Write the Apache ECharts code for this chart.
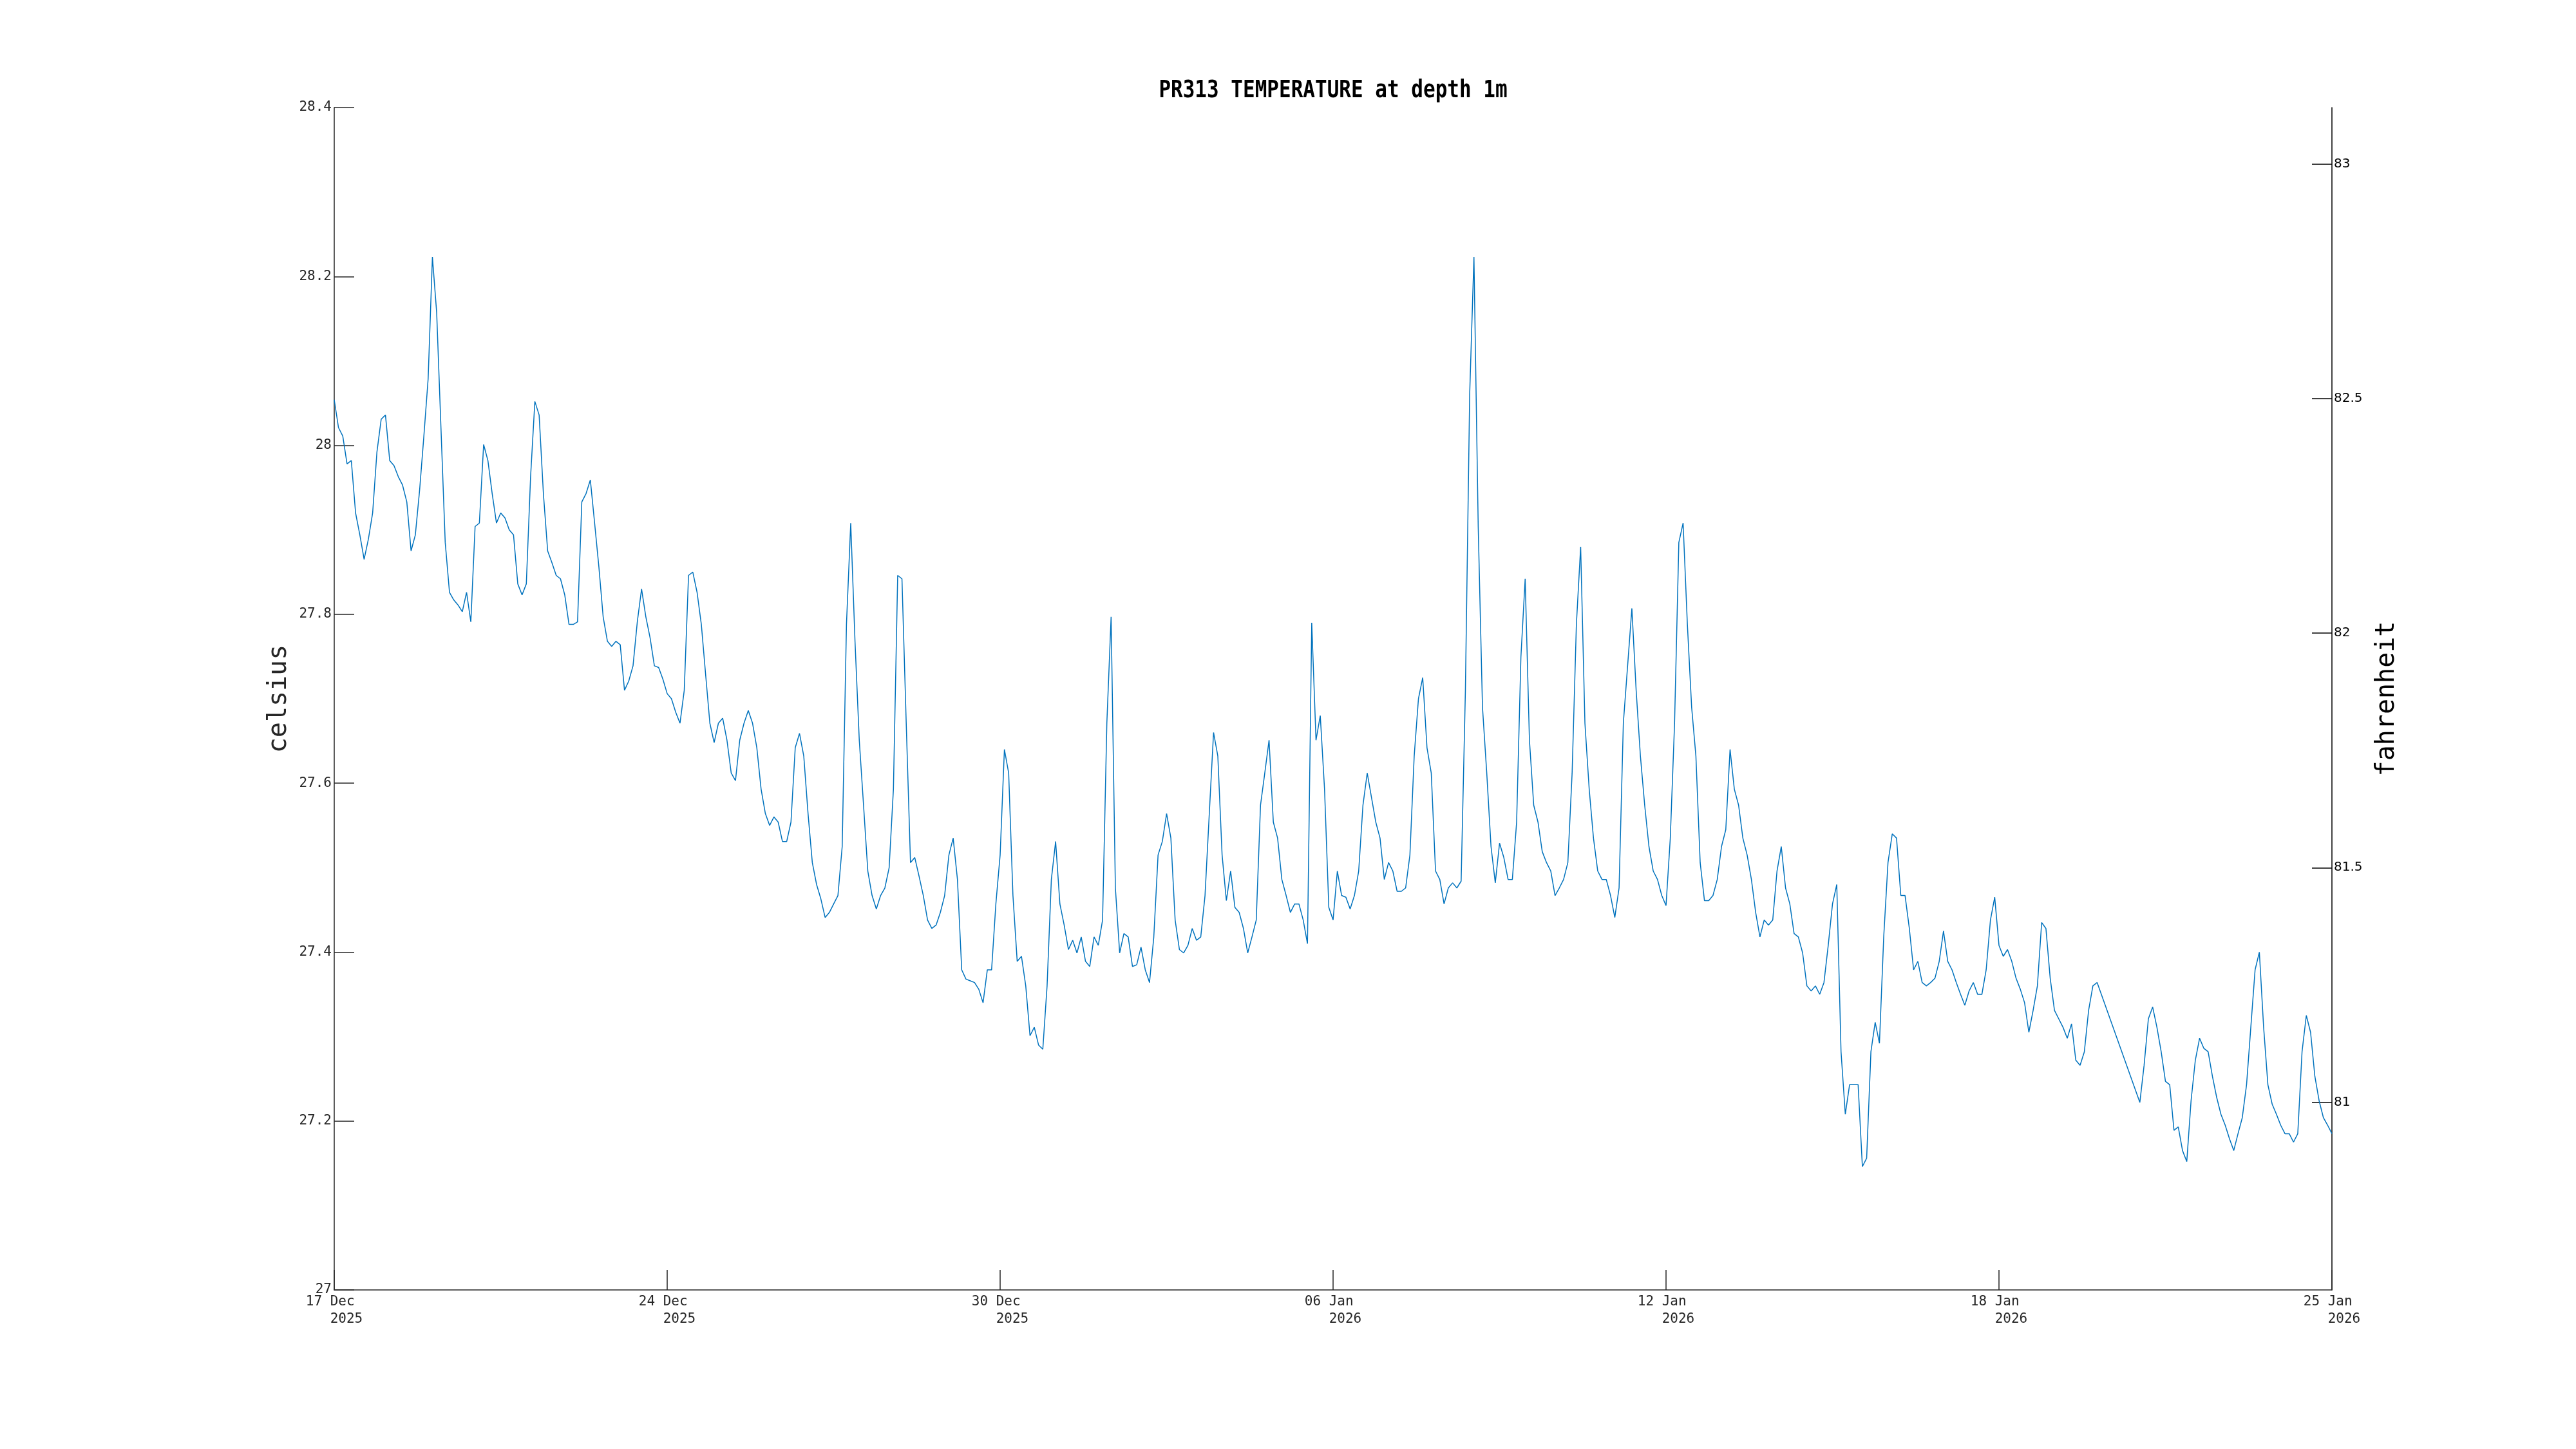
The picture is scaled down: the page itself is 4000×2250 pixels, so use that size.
<!DOCTYPE html>
<html><head><meta charset="utf-8">
<script src="https://cdn.jsdelivr.net/npm/echarts@6/dist/echarts.min.js"></script>
<style>html,body{margin:0;padding:0;background:#fff}#c{width:4000px;height:2250px}</style>
</head><body><div id="c"></div>
<script>
// Sampling: one value every 2 hours from 17 Dec 2025 00:00 (null = missing data)
const stepHours = 2;
const tickDays = ['17 Dec', '24 Dec', '30 Dec', '06 Jan', '12 Jan', '18 Jan', '25 Jan'];
const tickYears = ['2025', '2025', '2025', '2026', '2026', '2026', '2026'];
const tickStepHours = 156;
const totalHours = 936;
const fahrenheitTicks = [81, 81.5, 82, 82.5, 83];

const seg1 = [28.054, 28.021, 28.011, 27.978, 27.982, 27.920, 27.894, 27.865, 27.889, 27.920,
27.992, 28.031, 28.036, 27.982, 27.976, 27.963, 27.953, 27.933, 27.875, 27.894,
27.947, 28.011, 28.079, 28.223, 28.157, 28.021, 27.885, 27.826, 27.817, 27.811,
27.803, 27.826, 27.791, 27.904, 27.908, 28.001, 27.982, 27.943, 27.908, 27.920,
27.914, 27.900, 27.894, 27.836, 27.823, 27.836, 27.963, 28.052, 28.036, 27.943,
27.875, 27.861, 27.846, 27.842, 27.823, 27.788, 27.788, 27.791, 27.933, 27.943,
27.959, 27.908, 27.856, 27.797, 27.768, 27.762, 27.768, 27.764, 27.710, 27.721,
27.739, 27.791, 27.830, 27.797, 27.772, 27.739, 27.737, 27.723];
const seg2 = [27.706, 27.700,
27.684, 27.671, 27.710, 27.846, 27.850, 27.826, 27.788, 27.729, 27.671, 27.648,
27.671, 27.677, 27.651, 27.612, 27.603, 27.651, 27.671, 27.686, 27.671, 27.642,
27.593, 27.564, 27.550, 27.560, 27.554, 27.531, 27.531, 27.554, 27.642, 27.659,
27.632, 27.564, 27.506, 27.480, 27.463, 27.441, 27.447, 27.457, 27.467, 27.525,
27.788, 27.908, 27.768, 27.651, 27.574, 27.496, 27.467, 27.451, 27.467, 27.476,
27.500, 27.593, 27.846, 27.842, 27.671, 27.506, 27.512, 27.490, 27.467, 27.438,
27.428, 27.432, 27.447, 27.467, 27.515, 27.535, 27.486, 27.379, 27.368, 27.366,
27.364, 27.356, 27.340, 27.379, 27.379, 27.457];
const seg3 = [27.515, 27.640, 27.612, 27.467,
27.389, 27.395, 27.360, 27.301, 27.311, 27.290, 27.285, 27.360, 27.486, 27.531,
27.457, 27.432, 27.403, 27.414, 27.399, 27.418, 27.389, 27.383, 27.418, 27.408,
27.438, 27.671, 27.797, 27.476, 27.399, 27.422, 27.418, 27.383, 27.385, 27.406,
27.379, 27.364, 27.418, 27.515, 27.531, 27.564, 27.535, 27.438, 27.403, 27.399,
27.408, 27.428, 27.414, 27.418, 27.467, 27.564, 27.660, 27.632, 27.515, 27.461,
27.496, 27.453, 27.447, 27.428, 27.399, 27.418, 27.438, 27.574, 27.612, 27.651,
27.554, 27.535, 27.486, 27.467, 27.447, 27.457, 27.457, 27.438, 27.410, 27.790,
27.651, 27.680, 27.593, 27.453];
const seg4 = [27.438, 27.496, 27.467, 27.465, 27.451, 27.467,
27.496, 27.574, 27.612, 27.583, 27.554, 27.535, 27.486, 27.506, 27.496, 27.472,
27.472, 27.476, 27.515, 27.632, 27.700, 27.725, 27.642, 27.612, 27.496, 27.486,
27.457, 27.476, 27.482, 27.476, 27.484, 27.710, 28.060, 28.223, 27.904, 27.690,
27.612, 27.525, 27.482, 27.529, 27.512, 27.486, 27.486, 27.554, 27.749, 27.842,
27.651, 27.574, 27.554, 27.519, 27.506, 27.496, 27.467, 27.476, 27.486, 27.506,
27.612, 27.788, 27.880, 27.671, 27.593, 27.535, 27.496, 27.486, 27.486, 27.467,
27.441, 27.476, 27.671, 27.739, 27.807, 27.710, 27.632, 27.574, 27.525, 27.496,
27.486, 27.467];
const seg5 = [27.455, 27.535, 27.671, 27.885, 27.908, 27.788, 27.690, 27.632,
27.506, 27.461, 27.461, 27.467, 27.486, 27.525, 27.545, 27.640, 27.593, 27.574,
27.535, 27.515, 27.486, 27.447, 27.418, 27.438, 27.432, 27.438, 27.496, 27.525,
27.476, 27.457, 27.422, 27.418, 27.399, 27.360, 27.354, 27.360, 27.350, 27.364,
27.408, 27.457, 27.480, 27.282, 27.208, 27.243, 27.243, 27.243, 27.146, 27.156,
27.282, 27.317, 27.292, 27.418, 27.506, 27.540, 27.535, 27.467, 27.467, 27.428,
27.379, 27.389, 27.364, 27.360, 27.364, 27.369, 27.389, 27.425, 27.389, 27.379,
27.364, 27.350, 27.337, 27.354, 27.364, 27.350, 27.350, 27.379, 27.438, 27.465];
const seg6 = [27.408, 27.395, 27.403, 27.389, 27.369, 27.356, 27.340, 27.305, 27.331, 27.360,
27.435, 27.428, 27.369, 27.331, 27.321, 27.311, 27.298, 27.315, 27.272, 27.266,
27.282, 27.331, 27.360, 27.364, null, null, null, null, null, null,
null, null, null, 27.222, 27.266, 27.321, 27.335, 27.311, 27.282, 27.247,
27.243, 27.189, 27.193, 27.165, 27.152, 27.224, 27.272, 27.298, 27.286, 27.282,
27.253, 27.228, 27.208, 27.195, 27.179, 27.165, 27.185, 27.204, 27.243, 27.311,
27.379, 27.400, 27.311, 27.243, 27.220, 27.208, 27.195, 27.185, 27.185, 27.175,
27.185, 27.282, 27.325, 27.305, 27.253, 27.224, 27.204, 27.195, 27.185];

const temps = [].concat(seg1, seg2, seg3, seg4, seg5, seg6);
const data = temps.map((t, i) => [i * stepHours, t]);

const axisColor = '#262626';
const mono = '"DejaVu Sans Mono", monospace';

const chart = echarts.init(document.getElementById('c'), null, {renderer: 'canvas'});
chart.setOption({
  animation: false,
  backgroundColor: '#ffffff',
  grid: {left: 519, right: 379, top: 167, bottom: 247, containLabel: false},
  xAxis: {
    type: 'value', min: 0, max: totalHours, interval: tickStepHours,
    axisLine: {show: true, onZero: false, lineStyle: {color: axisColor, width: 1.5}},
    axisTick: {show: true, inside: true, length: 31, lineStyle: {color: axisColor, width: 1.5}},
    splitLine: {show: false},
    axisLabel: {
      show: true, margin: 5, fontFamily: mono, fontSize: 21, lineHeight: 27, color: axisColor,
      showMinLabel: true, showMaxLabel: true,
      formatter: function (v) {
        const k = Math.round(v / tickStepHours);
        return tickDays[k] + ' \n   ' + tickYears[k];
      }
    }
  },
  yAxis: [{
    type: 'value', min: 27, max: 28.4, interval: 0.2, position: 'left',
    name: 'celsius', nameLocation: 'middle', nameGap: 60, nameRotate: 90,
    nameTextStyle: {fontFamily: mono, fontSize: 40, color: axisColor},
    axisLine: {show: true, lineStyle: {color: axisColor, width: 1.5}},
    axisTick: {show: true, inside: true, length: 31, lineStyle: {color: axisColor, width: 1.5}},
    splitLine: {show: false},
    axisLabel: {margin: 4, fontFamily: mono, fontSize: 21, color: axisColor}
  }, {
    type: 'value', min: 80.6, max: 83.12, position: 'right',
    name: 'fahrenheit', nameLocation: 'middle', nameGap: 66, nameRotate: 90,
    nameTextStyle: {fontFamily: mono, fontSize: 40, color: '#000'},
    axisLine: {show: true, lineStyle: {color: '#000', width: 1.5}},
    axisTick: {show: true, inside: true, length: 31, customValues: fahrenheitTicks, lineStyle: {color: '#000', width: 1.5}},
    splitLine: {show: false},
    axisLabel: {margin: 3, fontFamily: '"DejaVu Sans", sans-serif', fontSize: 20, color: '#000', customValues: fahrenheitTicks}
  }],
  graphic: [{
    type: 'text', x: 2070, y: 141, scaleY: 1.2,
    style: {text: 'PR313 TEMPERATURE at depth 1m', font: 'bold 31px "DejaVu Sans Mono"', fill: '#000', align: 'center', verticalAlign: 'middle'}
  }],
  series: [{
    type: 'line', data: data, xAxisIndex: 0, yAxisIndex: 0,
    showSymbol: false, symbol: 'none', connectNulls: true,
    lineStyle: {color: '#0072BD', width: 1.5}
  }]
});
</script>
</body></html>
